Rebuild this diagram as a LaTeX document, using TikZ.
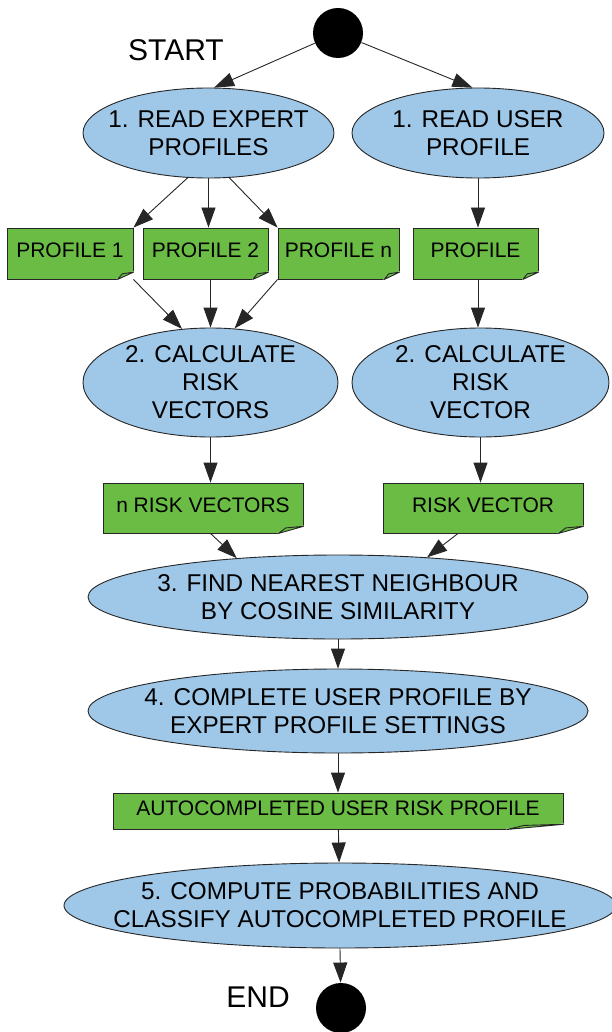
\documentclass[tikz,border=0pt]{standalone}
\usepackage{fontspec}
\setmainfont{Liberation Sans}
\usepackage{tikz}
\usetikzlibrary{shapes}
\usetikzlibrary{arrows.meta}
\usetikzlibrary{calc}
\definecolor{taskblue}{RGB}{158,199,232}
\definecolor{docgreen}{RGB}{106,188,69}
\newcommand{\taskfont}{\fontsize{24.3}{28}\selectfont}
\newcommand{\docfont}{\fontsize{21}{24}\selectfont}
\newcommand{\termfont}{\fontsize{30}{34}\selectfont}
\tikzstyle{task}=[ellipse,draw=black!85,fill=taskblue,inner sep=0pt]
\tikzstyle{tasktext}=[align=center,font=\taskfont,inner sep=0pt]
\tikzstyle{doc}=[rectangle,draw=black!85,fill=docgreen,inner sep=0pt,text depth=6pt,font=\docfont]
\tikzstyle{terminal}=[circle,fill=black,inner sep=0pt,minimum size=50pt]
\tikzstyle{termtext}=[font=\termfont,inner sep=0pt]
\tikzstyle{flow}=[->,>={Triangle[length=20pt,width=14pt]},draw=black!85]
\tikzset{every picture/.style={
    line width=0.9pt
  }
}

\begin{document}
\begin{tikzpicture}[x=1pt,y=-1pt]
      \useasboundingbox (0,0) rectangle (611,1032);
      \node[terminal] at (338,33) (start) {};
      \node[termtext] at (176,50) (startlbl) {START};
      % step 1
      \node[task,minimum width=251pt,minimum height=90pt,
        label={[tasktext]center:1. READ EXPERT\\PROFILES}] at (208.5,133) (readexp) {};
      \node[task,minimum width=252pt,minimum height=90pt,
        label={[tasktext]center:1. READ USER\\PROFILE}] at (478,133) (readusr) {};
      \node[doc,minimum width=126pt,minimum height=51pt] at (70,253.5) (prof1) {PROFILE 1};
      \node[doc,minimum width=125pt,minimum height=51pt] at (205.5,253.5) (prof2) {PROFILE 2};
      \node[doc,minimum width=121pt,minimum height=51pt] at (338.5,253.5) (profn) {PROFILE n};
      \node[doc,minimum width=125pt,minimum height=51pt] at (475.5,253.5) (prof) {PROFILE};
      % step 2
      \node[task,minimum width=255pt,minimum height=109pt,
        label={[tasktext]center:2. CALCULATE\\RISK\\VECTORS}] at (210.5,382.5) (calcexp) {};
      \node[task,minimum width=257pt,minimum height=109pt,
        label={[tasktext]center:2. CALCULATE\\RISK\\VECTOR}] at (480.5,382.5) (calcusr) {};
      \node[doc,minimum width=200pt,minimum height=50pt] at (203,508) (nvec) {n RISK VECTORS};
      \node[doc,minimum width=200pt,minimum height=50pt] at (483,508) (vec) {RISK VECTOR};
      % steps 3 to 5
      \node[task,minimum width=500pt,minimum height=84pt,
        label={[tasktext]center:3. FIND NEAREST NEIGHBOUR\\BY COSINE SIMILARITY}] at (338,597) (nearest) {};
      \node[task,minimum width=500pt,minimum height=84pt,
        label={[tasktext]center:4. COMPLETE USER PROFILE BY\\EXPERT PROFILE SETTINGS}] at (338,711) (complete) {};
      \node[doc,minimum width=450pt,minimum height=36pt] at (338,811) (auto) {AUTOCOMPLETED USER RISK PROFILE};
      \node[task,minimum width=552pt,minimum height=85pt,
        label={[tasktext]center:5. COMPUTE PROBABILITIES AND\\CLASSIFY AUTOCOMPLETED PROFILE}] at (340,905.5) (classify) {};
      \node[terminal] at (341,1008) (end) {};
      \node[termtext] at (258,997) (endlbl) {END};
      % folded corners of the documents
      \foreach \d in {prof1,prof2,profn,prof,nvec,vec,auto}{
        \coordinate (fa) at ($(\d.south east)!0.125!(\d.south west)$);
        \coordinate (fb) at ($(\d.south east)!0.14!(\d.north east)$);
        \coordinate (fx) at ($(fa)!0.3!(fb)$);
        \coordinate (fy) at ($(fa)!0.78!(fb)$);
        \fill[white,draw=white,line width=1.6pt,line join=round] (fa) -- (\d.south east) -- (fb) -- cycle;
        \draw[draw=black!85,fill=docgreen,line join=round] (fa) -- (fx |- fy) -- (fb) -- cycle;
      }
      \draw[flow] (start)--(readexp.83);
      \draw[flow] (start)--(readusr.97);
      \draw[flow] (readexp.245)--(prof1.north east);
      \draw[flow] (readexp.south)--(readexp.south |- prof2.north);
      \draw[flow] (readexp.295)--(profn.north west);
      \draw[flow] (readusr.south)--(readusr.south |- prof.north);
      \draw[flow] (prof1.south east)--(calcexp.118);
      \draw[flow] (calcexp.north |- prof2.south)--(calcexp.north);
      \draw[flow] (profn.south west)--(calcexp.66);
      \draw[flow] (readusr.south |- prof.south)--(readusr.south |- calcusr.north);
      \draw[flow] (calcexp.south)--(calcexp.south |- nvec.north);
      \draw[flow] (calcusr.south)--(calcusr.south |- vec.north);
      \draw[flow] (calcexp.south |- nvec.south)--(nearest.159);
      \draw[flow] ([xshift=-25pt]vec.south)--(nearest.24);
      \draw[flow] (nearest)--(complete);
      \draw[flow] (complete)--(auto);
      \draw[flow] (auto)--(classify);
      \draw[flow] (classify.south)--(end);
\end{tikzpicture}
\end{document}
